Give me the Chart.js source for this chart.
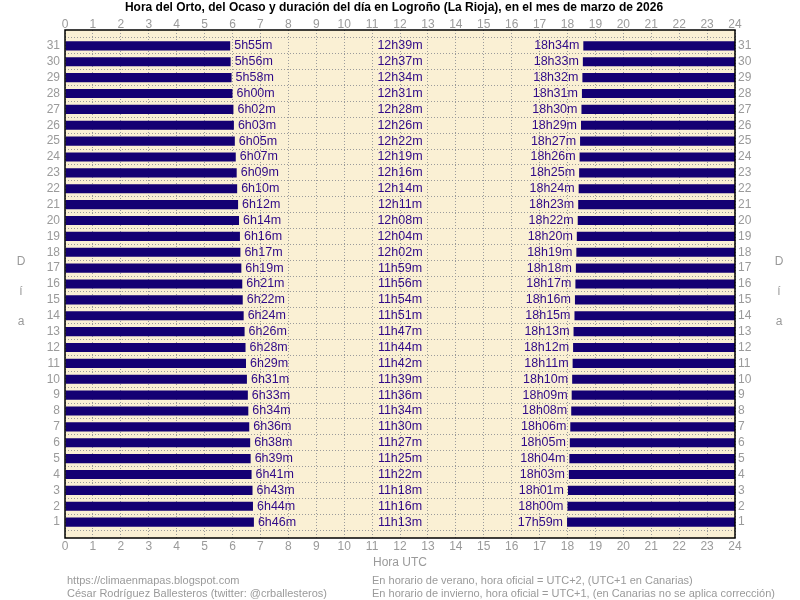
<!DOCTYPE html>
<html>
<head>
<meta charset="utf-8">
<script src="https://cdn.jsdelivr.net/npm/chart.js@4/dist/chart.umd.min.js"></script>
<style>
  html, body { margin: 0; padding: 0; background: #fff; }
  #wrap { width: 800px; height: 600px; }
</style>
</head>
<body>
<div id="wrap"><canvas id="grafico" width="800" height="600"></canvas></div>
<script>
// dias del mes (1 a 31)
const dias = [1, 2, 3, 4, 5, 6, 7, 8, 9, 10, 11, 12, 13, 14, 15, 16, 17, 18, 19, 20, 21, 22, 23, 24, 25, 26, 27, 28, 29, 30, 31];

// hora del orto (UTC), dia 1 a 31
const orto = ['6h46m', '6h44m', '6h43m', '6h41m', '6h39m', '6h38m', '6h36m', '6h34m', '6h33m', '6h31m',
  '6h29m', '6h28m', '6h26m', '6h24m', '6h22m', '6h21m', '6h19m', '6h17m', '6h16m', '6h14m',
  '6h12m', '6h10m', '6h09m', '6h07m', '6h05m', '6h03m', '6h02m', '6h00m', '5h58m', '5h56m', '5h55m'];

// hora del ocaso (UTC)
const ocaso = ['17h59m', '18h00m', '18h01m', '18h03m', '18h04m', '18h05m', '18h06m', '18h08m', '18h09m', '18h10m',
  '18h11m', '18h12m', '18h13m', '18h15m', '18h16m', '18h17m', '18h18m', '18h19m', '18h20m', '18h22m',
  '18h23m', '18h24m', '18h25m', '18h26m', '18h27m', '18h29m', '18h30m', '18h31m', '18h32m', '18h33m', '18h34m'];

// duracion del dia
const duracion = ['11h13m', '11h16m', '11h18m', '11h22m', '11h25m', '11h27m', '11h30m', '11h34m', '11h36m', '11h39m',
  '11h42m', '11h44m', '11h47m', '11h51m', '11h54m', '11h56m', '11h59m', '12h02m', '12h04m', '12h08m',
  '12h11m', '12h14m', '12h16m', '12h19m', '12h22m', '12h26m', '12h28m', '12h31m', '12h34m', '12h37m', '12h39m'];

const titulo = 'Hora del Orto, del Ocaso y duración del día en Logroño (La Rioja), en el mes de marzo de 2026';
const notasIzq = ['https://climaenmapas.blogspot.com', 'César Rodríguez Ballesteros (twitter: @crballesteros)'];
const notasDer = ['En horario de verano, hora oficial = UTC+2, (UTC+1 en Canarias)',
  'En horario de invierno, hora oficial = UTC+1, (en Canarias no se aplica corrección)'];

const FUENTE = '"Liberation Sans", Arial, sans-serif';
const GRIS = '#9a9a9a';
const AZUL = '#140073';
const TEXTO = '#300a88';

function aHoras(s) {
  const m = s.match(/(\d+)h(\d+)m/);
  return Number(m[1]) + Number(m[2]) / 60;
}

const rejilla = { color: '#9b9b9b', lineWidth: 1, drawTicks: false };
const borde = { display: false, dash: [1, 2] };

// fondo, borde y rotulos
const extras = {
  id: 'extras',
  beforeDraw(chart) {
    const { ctx, chartArea: a } = chart;
    ctx.save();
    ctx.fillStyle = '#fff';
    ctx.fillRect(0, 0, chart.width, chart.height);
    ctx.fillStyle = '#faf0d4';
    ctx.fillRect(a.left, a.top, a.right - a.left, a.bottom - a.top);
    ctx.restore();
  },
  afterDatasetsDraw(chart) {
    const { ctx } = chart;
    const x = chart.scales.x, y = chart.scales.y;
    ctx.save();
    ctx.font = '12.5px ' + FUENTE;
    ctx.fillStyle = TEXTO;
    ctx.textBaseline = 'middle';
    dias.forEach((d, i) => {
      const py = y.getPixelForValue(d);
      ctx.textAlign = 'left';
      ctx.fillText(orto[i], x.getPixelForValue(aHoras(orto[i])) + 4, py);
      ctx.textAlign = 'center';
      ctx.fillText(duracion[i], x.getPixelForValue(12), py);
      ctx.textAlign = 'right';
      ctx.fillText(ocaso[i], x.getPixelForValue(aHoras(ocaso[i])) - 4, py);
    });
    ctx.restore();
  },
  afterDraw(chart) {
    const { ctx, chartArea: a } = chart;
    ctx.save();
    ctx.strokeStyle = '#000';
    ctx.lineWidth = 1.5;
    ctx.strokeRect(a.left, a.top, a.right - a.left, a.bottom - a.top);

    ctx.fillStyle = '#000';
    ctx.font = 'bold 12px ' + FUENTE;
    ctx.textAlign = 'center';
    ctx.textBaseline = 'middle';
    ctx.fillText(titulo, 394, 8);

    ctx.fillStyle = GRIS;
    ctx.font = '12px ' + FUENTE;
    ctx.fillText('Hora UTC', (a.left + a.right) / 2, 563);
    ['D', 'í', 'a'].forEach((c, k) => {
      const py = 262 + k * 30;
      ctx.fillText(c, 21, py);
      ctx.fillText(c, 779, py);
    });

    ctx.font = '11px ' + FUENTE;
    ctx.textAlign = 'left';
    notasIzq.forEach((t, k) => ctx.fillText(t, 67, 581 + k * 13));
    notasDer.forEach((t, k) => ctx.fillText(t, 372, 581 + k * 13));
    ctx.restore();
  }
};

const ejeHoras = (pos, alto, pad) => ({
  type: 'linear', position: pos, min: 0, max: 24, offset: false,
  grid: pos === 'bottom' ? rejilla : { display: false, drawTicks: false },
  border: borde,
  ticks: { stepSize: 1, autoSkip: false, maxRotation: 0, color: GRIS, padding: pad, font: { family: FUENTE, size: 12 } },
  afterFit(s) { s.height = alto; }
});

const ejeDias = (pos, pad) => ({
  type: 'linear', position: pos, min: 0, max: 32, offset: false,
  grid: pos === 'left' ? rejilla : { display: false, drawTicks: false },
  border: borde,
  ticks: {
    stepSize: 1, autoSkip: false, color: GRIS, padding: pad, font: { family: FUENTE, size: 12 },
    callback: v => (v >= 1 && v <= 31 ? String(v) : '')
  },
  afterFit(s) { s.width = 65; }
});

new Chart(document.getElementById('grafico'), {
  type: 'bar',
  data: {
    datasets: [
      {
        label: 'Orto',
        data: dias.map((d, i) => ({ x: [0, aHoras(orto[i])], y: d })),
        backgroundColor: AZUL,
        xAxisID: 'x', yAxisID: 'y'
      },
      {
        label: 'Ocaso',
        data: dias.map((d, i) => ({ x: [aHoras(ocaso[i]), 24], y: d })),
        backgroundColor: AZUL,
        xAxisID: 'x', yAxisID: 'y'
      }
    ]
  },
  options: {
    indexAxis: 'y',
    responsive: false,
    animation: false,
    devicePixelRatio: 1,
    datasets: { bar: { grouped: false, categoryPercentage: 1, barPercentage: 0.57 } },
    layout: { padding: 0 },
    plugins: { legend: { display: false }, title: { display: false }, tooltip: { enabled: false } },
    scales: {
      x: ejeHoras('bottom', 62, 1),
      x2: ejeHoras('top', 30, -2),
      y: ejeDias('left', 5),
      y2: ejeDias('right', 3)
    }
  },
  plugins: [extras]
});
</script>
</body>
</html>
